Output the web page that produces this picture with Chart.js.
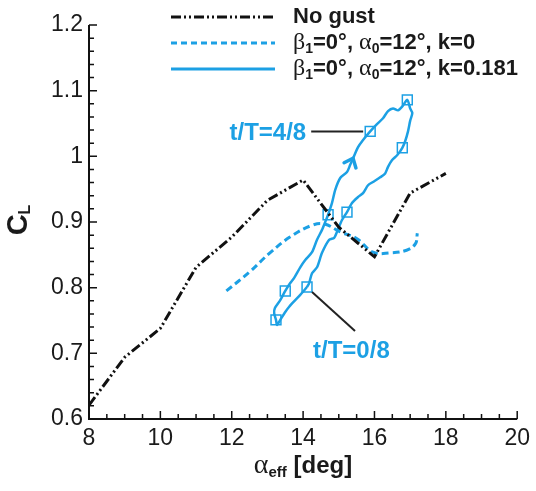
<!DOCTYPE html>
<html>
<head>
<meta charset="utf-8">
<script src="https://cdn.jsdelivr.net/npm/chart.js@4"></script>
<style>
  html, body { margin: 0; padding: 0; background: #fff; }
</style>
</head>
<body>
<canvas id="clChart" width="536" height="491"></canvas>
<script>
// No gust (static polar)
const noGustAlpha = [8, 9, 10, 11, 12, 13, 14, 15, 16, 17, 18];
const noGustCl = [0.621, 0.694, 0.738, 0.831, 0.877, 0.933, 0.964, 0.892, 0.847, 0.944, 0.974];

// beta1=0, alpha0=12, k=0
const steadyAlpha = [11.85, 12.5, 13.07, 13.63, 14.25, 14.6, 15.04, 15.5, 15.96, 16.44, 16.9, 17.15, 17.2];
const steadyCl = [0.795, 0.824, 0.853, 0.877, 0.895, 0.897, 0.885, 0.875, 0.854, 0.853, 0.857, 0.867, 0.883];

// beta1=0, alpha0=12, k=0.181 (hysteresis loop, starts at t/T=0)
const loopAlpha = [14.11, 13.92, 13.78, 13.61, 13.50, 13.36, 13.27, 13.24, 13.19, 13.21, 13.36, 13.50, 13.64, 13.75, 13.92, 14.06,
  14.25, 14.39, 14.53, 14.62, 14.70, 14.81, 14.90, 15.04, 15.23, 15.32, 15.40, 15.54, 15.68, 15.88, 16.05, 16.24, 16.38, 16.52,
  16.66, 16.78, 16.92, 17.00, 17.06, 17.00, 16.94, 16.86, 16.78, 16.64, 16.49, 16.38, 16.30, 16.16, 15.96, 15.82, 15.68, 15.54,
  15.37, 15.23, 15.09, 14.95, 14.87, 14.73, 14.53, 14.39, 14.25, 14.17, 14.11];
const loopCl = [0.801, 0.789, 0.781, 0.771, 0.763, 0.751, 0.743, 0.751, 0.761, 0.769, 0.781, 0.795, 0.807, 0.815, 0.831, 0.842,
  0.854, 0.873, 0.888, 0.900, 0.911, 0.929, 0.949, 0.967, 0.976, 0.987, 0.997, 1.014, 1.025, 1.038, 1.048, 1.058, 1.069, 1.073,
  1.070, 1.076, 1.086, 1.073, 1.066, 1.054, 1.038, 1.023, 1.013, 1.002, 0.994, 0.984, 0.974, 0.968, 0.961, 0.956, 0.944, 0.938,
  0.929, 0.915, 0.903, 0.885, 0.876, 0.873, 0.853, 0.831, 0.822, 0.807, 0.801];

// square markers at t/T = 0/8 ... 7/8
const phaseAlpha = [14.11, 13.24, 13.50, 14.70, 15.88, 16.92, 16.78, 15.23];
const phaseCl = [0.801, 0.751, 0.795, 0.911, 1.038, 1.086, 1.013, 0.915];

// direction arrow on the loop
const arrowAlpha = [15.32, 15.40];
const arrowCl = [0.987, 0.997];

const alphaTicks = [8, 10, 12, 14, 16, 18, 20];
const alphaTickLabels = ['8', '10', '12', '14', '16', '18', '20'];
const clTicks = [0.6, 0.7, 0.8, 0.9, 1.0, 1.1, 1.2];
const clTickLabels = ['0.6', '0.7', '0.8', '0.9', '1', '1.1', '1.2'];

const blue = '#1ca0e4';
const textCol = '#1a1a1a';
const sans = '"Liberation Sans", Arial, sans-serif';
const serif = '"Liberation Serif", "Times New Roman", serif';

const xy = (xs, ys) => xs.map((v, i) => ({ x: v, y: ys[i] }));

function drawRich(ctx, parts, x, y) {
    parts.forEach(p => {
        ctx.font = p.font;
        ctx.fillText(p.t, x, y + (p.dy || 0));
        x += ctx.measureText(p.t).width;
    });
    return x;
}
function richWidth(ctx, parts) {
    let w = 0;
    parts.forEach(p => { ctx.font = p.font; w += ctx.measureText(p.t).width; });
    return w;
}

const decor = {
    id: 'decor',
    beforeDatasetsDraw(chart) {
        const { ctx, chartArea: a, scales: { x, y } } = chart;
        ctx.save();
        ctx.strokeStyle = '#111';
        ctx.lineWidth = 2;
        ctx.beginPath();
        ctx.moveTo(a.left, a.top);
        ctx.lineTo(a.left, a.bottom);
        ctx.lineTo(a.right, a.bottom);
        ctx.stroke();

        // ticks pointing inward
        ctx.lineWidth = 1.5;
        ctx.beginPath();
        for (let i = 0; i <= 24; i++) {
            const px = x.getPixelForValue(8 + i * 0.5);
            const len = i % 4 === 0 ? 8 : 5;
            ctx.moveTo(px, a.bottom);
            ctx.lineTo(px, a.bottom - len);
        }
        for (let i = 0; i <= 30; i++) {
            const py = y.getPixelForValue(0.6 + i * 0.02);
            const len = i % 5 === 0 ? 8 : 5;
            ctx.moveTo(a.left, py);
            ctx.lineTo(a.left + len, py);
        }
        ctx.stroke();
        ctx.restore();
    },
    afterDatasetsDraw(chart) {
        const { ctx, scales: { x, y } } = chart;
        ctx.save();

        // arrow on the loop
        const x0 = x.getPixelForValue(arrowAlpha[0]), y0 = y.getPixelForValue(arrowCl[0]);
        const x1 = x.getPixelForValue(arrowAlpha[1]), y1 = y.getPixelForValue(arrowCl[1]);
        const ang = Math.atan2(y1 - y0, x1 - x0);
        ctx.strokeStyle = blue;
        ctx.lineWidth = 3.5;
        ctx.lineCap = 'round';
        ctx.beginPath();
        ctx.moveTo(x1 - 10 * Math.cos(ang - 0.7), y1 - 10 * Math.sin(ang - 0.7));
        ctx.lineTo(x1, y1);
        ctx.lineTo(x1 - 10 * Math.cos(ang + 0.7), y1 - 10 * Math.sin(ang + 0.7));
        ctx.stroke();

        // phase callouts
        ctx.strokeStyle = '#222';
        ctx.lineWidth = 2;
        ctx.lineCap = 'butt';
        const p4x = x.getPixelForValue(phaseAlpha[4]) - 7, p4y = y.getPixelForValue(phaseCl[4]);
        ctx.beginPath();
        ctx.moveTo(p4x - 52, p4y);
        ctx.lineTo(p4x, p4y);
        ctx.stroke();
        const p0x = x.getPixelForValue(phaseAlpha[0]) + 5, p0y = y.getPixelForValue(phaseCl[0]) + 5;
        ctx.beginPath();
        ctx.moveTo(p0x, p0y);
        ctx.lineTo(p0x + 43, p0y + 39);
        ctx.stroke();

        ctx.fillStyle = blue;
        ctx.font = 'bold 24px ' + sans;
        ctx.textBaseline = 'middle';
        ctx.textAlign = 'right';
        ctx.fillText('t/T=4/8', p4x - 57, p4y + 2);
        ctx.textAlign = 'left';
        ctx.fillText('t/T=0/8', p0x + 1, p0y + 59);

        // legend
        const rows = [
            { y: 17, color: '#111', dash: [10, 3, 2, 3, 2, 3], width: 3,
              parts: [{ t: 'No gust', font: 'bold 22px ' + sans }] },
            { y: 43, color: blue, dash: [6, 4], width: 3,
              parts: [{ t: 'β', font: '24px ' + serif }, { t: '1', font: 'bold 14px ' + sans, dy: 6 },
                      { t: '=0°, ', font: 'bold 22px ' + sans }, { t: 'α', font: '24px ' + serif },
                      { t: '0', font: 'bold 14px ' + sans, dy: 6 }, { t: '=12°, k=0', font: 'bold 22px ' + sans }] },
            { y: 69, color: blue, dash: [], width: 3,
              parts: [{ t: 'β', font: '24px ' + serif }, { t: '1', font: 'bold 14px ' + sans, dy: 6 },
                      { t: '=0°, ', font: 'bold 22px ' + sans }, { t: 'α', font: '24px ' + serif },
                      { t: '0', font: 'bold 14px ' + sans, dy: 6 }, { t: '=12°, k=0.181', font: 'bold 22px ' + sans }] }
        ];
        rows.forEach(r => {
            ctx.strokeStyle = r.color;
            ctx.lineWidth = r.width;
            ctx.setLineDash(r.dash);
            ctx.beginPath();
            ctx.moveTo(171, r.y);
            ctx.lineTo(275, r.y);
            ctx.stroke();
            ctx.setLineDash([]);
            ctx.fillStyle = textCol;
            ctx.textAlign = 'left';
            drawRich(ctx, r.parts, 293, r.y);
        });

        // axis titles
        const xt = [{ t: 'α', font: '28px ' + serif }, { t: 'eff', font: 'bold 15px ' + sans, dy: 7 },
                    { t: ' [deg]', font: 'bold 24px ' + sans }];
        ctx.fillStyle = textCol;
        drawRich(ctx, xt, 303 - richWidth(ctx, xt) / 2, 466);

        const yt = [{ t: 'C', font: 'bold 29px ' + sans }, { t: 'L', font: 'bold 16px ' + sans, dy: 7 }];
        ctx.translate(19, 220);
        ctx.rotate(-Math.PI / 2);
        drawRich(ctx, yt, -richWidth(ctx, yt) / 2, 0);
        ctx.restore();
    }
};

const ctx = document.getElementById('clChart').getContext('2d');
new Chart(ctx, {
    type: 'scatter',
    data: {
        datasets: [{
            label: 'No gust',
            data: xy(noGustAlpha, noGustCl),
            showLine: true,
            borderColor: '#111',
            borderWidth: 3,
            borderDash: [10, 3, 2, 3, 2, 3],
            pointRadius: 0,
            tension: 0
        }, {
            label: 'k=0',
            data: xy(steadyAlpha, steadyCl),
            showLine: true,
            borderColor: blue,
            borderWidth: 3,
            borderDash: [7, 4],
            pointRadius: 0,
            tension: 0.4
        }, {
            label: 'k=0.181',
            data: xy(loopAlpha, loopCl),
            showLine: true,
            borderColor: blue,
            borderWidth: 2.5,
            pointRadius: 0,
            tension: 0.25
        }, {
            label: 'phases',
            data: xy(phaseAlpha, phaseCl),
            showLine: false,
            pointStyle: 'rect',
            pointRadius: 7,
            pointBackgroundColor: '#fff',
            pointBorderColor: blue,
            pointBorderWidth: 1.5
        }]
    },
    options: {
        responsive: false,
        animation: false,
        events: [],
        layout: {
            padding: { left: 0, top: 25, right: 18, bottom: 0 }
        },
        scales: {
            x: {
                type: 'linear',
                min: 8,
                max: 20,
                afterBuildTicks: s => { s.ticks = alphaTicks.map(v => ({ value: v })); },
                afterFit: s => { s.height = 72; },
                grid: { display: false, drawTicks: false },
                border: { display: false },
                ticks: {
                    padding: 6,
                    color: textCol,
                    font: { family: sans, size: 23 },
                    callback: v => alphaTickLabels[alphaTicks.indexOf(v)]
                }
            },
            y: {
                type: 'linear',
                min: 0.6,
                max: 1.2,
                afterBuildTicks: s => { s.ticks = clTicks.map(v => ({ value: v })); },
                afterFit: s => { s.width = 89; },
                grid: { display: false, drawTicks: false },
                border: { display: false },
                ticks: {
                    padding: 6,
                    color: textCol,
                    font: { family: sans, size: 23 },
                    callback: v => clTickLabels[clTicks.findIndex(t => Math.abs(t - v) < 1e-6)]
                }
            }
        },
        plugins: {
            legend: { display: false },
            tooltip: { enabled: false }
        }
    },
    plugins: [decor]
});
</script>
</body>
</html>
